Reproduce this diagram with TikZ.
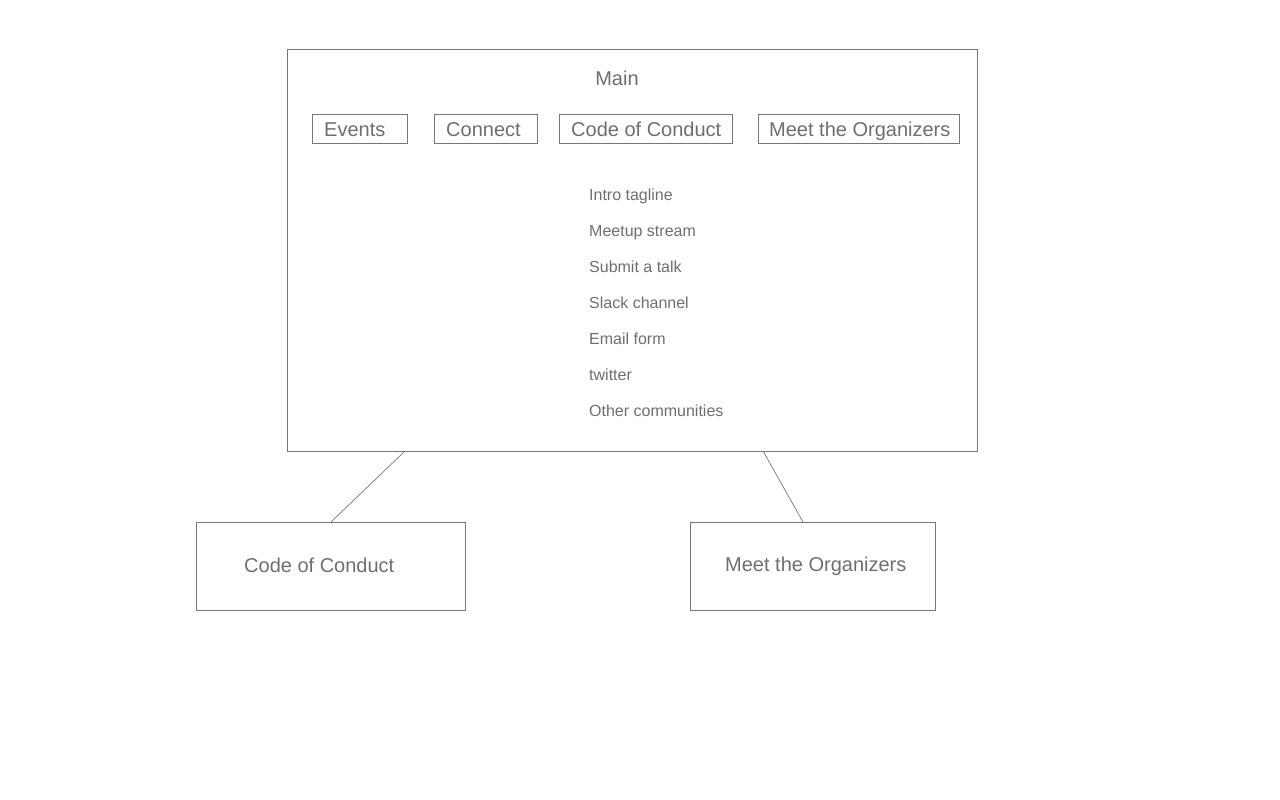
\documentclass[tikz,border=0pt]{standalone}
\usepackage{fontspec}
\setmainfont{Liberation Sans}
\definecolor{txtgray}{HTML}{6E6E6E}
\definecolor{linegray}{HTML}{767676}
\begin{document}
\begin{tikzpicture}[x=1pt,y=-1pt,
  box/.style={draw=linegray, line width=1pt, rectangle, inner sep=0pt, anchor=north west},
  big/.style={text=txtgray, font=\fontsize{20}{24}\selectfont, inner sep=0pt, anchor=base west},
  small/.style={text=txtgray, font=\fontsize{16}{19}\selectfont, inner sep=0pt, anchor=base west},
  conn/.style={draw=linegray, line width=0.7pt}]
\useasboundingbox (0,0) rectangle (1280,800);
% main box
\node[box, minimum width=690, minimum height=402] (main) at (287,49) {};
\node[big, anchor=base] (maint) at (617,85) {Main};
% menu boxes
\node[box, minimum width=95, minimum height=29] (ev) at (312,114) {};
\node[big] (evt) at (324,136) {Events};
\node[box, minimum width=103, minimum height=29] (cn) at (434,114) {};
\node[big] (cnt) at (446,136) {Connect};
\node[box, minimum width=173, minimum height=29] (cc) at (559,114) {};
\node[big] (cct) at (571,136) {Code of Conduct};
\node[box, minimum width=201, minimum height=29] (mo) at (758,114) {};
\node[big] (mot) at (769,136) {Meet the Organizers};
% list
\node[small] (l1) at (589,200) {Intro tagline};
\node[small] (l2) at (589,236) {Meetup stream};
\node[small] (l3) at (589,272) {Submit a talk};
\node[small] (l4) at (589,308) {Slack channel};
\node[small] (l5) at (589,344) {Email form};
\node[small] (l6) at (589,380) {twitter};
\node[small] (l7) at (589,416) {Other communities};
% bottom boxes
\node[box, minimum width=269, minimum height=88] (bcc) at (196,522) {};
\node[big] (bcct) at (244,572) {Code of Conduct};
\node[box, minimum width=245, minimum height=88] (bmo) at (690,522) {};
\node[big] (bmot) at (725,571) {Meet the Organizers};
% connectors
\coordinate (m1) at (405,451);
\coordinate (m2) at (763,451);
\coordinate (b2) at (803,522);
\draw[conn] (m1) -- (bcc.north);
\draw[conn] (m2) -- (b2);
\end{tikzpicture}
\end{document}
